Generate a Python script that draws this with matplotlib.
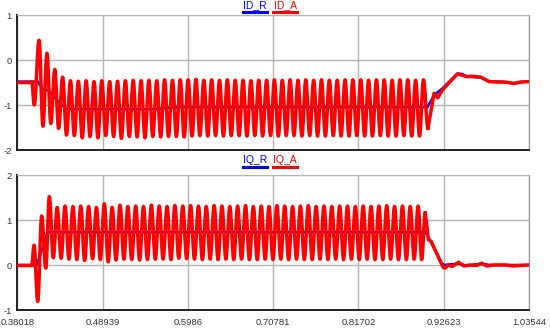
import matplotlib
matplotlib.use("Agg")
import matplotlib.pyplot as plt
from matplotlib.path import Path
from matplotlib.patches import PathPatch

plt.rcParams['font.family'] = ['Liberation Sans', 'DejaVu Sans']
plt.rcParams['axes.unicode_minus'] = False

# ---------------- data ----------------
x_ticks = [0.38018, 0.48939, 0.5986, 0.70781, 0.81702, 0.92623, 1.03544]
x_tick_labels = ["0.38018", "0.48939", "0.5986", "0.70781", "0.81702", "0.92623", "1.03544"]
top_y_ticks = [-2, -1, 0, 1]
bot_y_ticks = [-1, 0, 1, 2]

# --- top panel: ID_R (blue) ---
ID_R_t = [0.38018, 0.4017, 0.4050, 0.4133, 0.4197, 0.4283, 0.4369, 0.4433, 0.5566, 0.5730,
          0.5990, 0.6200, 0.9053, 0.9138, 0.9246, 0.9438, 0.9500, 0.9560, 0.9740, 0.9844,
          1.0000, 1.0144, 1.0220, 1.03544]
ID_R_v = [-0.48, -0.48, -0.45, -0.67, -0.67, -0.85, -1.00, -1.09, -1.09, -1.06,
          -1.04, -1.05, -1.05, -0.78, -0.63, -0.30, -0.31, -0.37, -0.39, -0.48,
          -0.48, -0.52, -0.49, -0.48]

# --- top panel: ID_A (red) ---
ID_A_pre_t = [0.38018, 0.3984, 0.4017]
ID_A_pre_v = [-0.48, -0.48, -1.00]
ID_A_peak_t = [0.4078, 0.4179, 0.4279, 0.4380, 0.4480, 0.4581, 0.4681, 0.4782, 0.4882, 0.4983,
               0.5083, 0.5184, 0.5284, 0.5385, 0.5485, 0.5586, 0.5686, 0.5787, 0.5887, 0.5988,
               0.6088, 0.6189, 0.6289, 0.6390, 0.6490, 0.6591, 0.6691, 0.6792, 0.6892, 0.6993,
               0.7093, 0.7194, 0.7294, 0.7395, 0.7495, 0.7596, 0.7696, 0.7797, 0.7897, 0.7998,
               0.8098, 0.8199, 0.8299, 0.8400, 0.8500, 0.8601, 0.8701, 0.8802, 0.8902, 0.9003]
ID_A_peak_v = [0.44, 0.15, -0.21, -0.38, -0.46, -0.47, -0.46, -0.48, -0.46, -0.48,
               -0.47, -0.46, -0.45, -0.46, -0.45, -0.46, -0.44, -0.45, -0.44, -0.44,
               -0.43, -0.45, -0.44, -0.45, -0.44, -0.45, -0.45, -0.46, -0.45, -0.45,
               -0.44, -0.45, -0.44, -0.45, -0.44, -0.45, -0.44, -0.45, -0.45, -0.44,
               -0.44, -0.44, -0.45, -0.44, -0.44, -0.45, -0.44, -0.44, -0.45, -0.44]
ID_A_trough_t = [0.4128, 0.4229, 0.4329, 0.4430, 0.4530, 0.4631, 0.4731, 0.4832, 0.4932, 0.5033,
                 0.5133, 0.5234, 0.5334, 0.5435, 0.5535, 0.5636, 0.5736, 0.5837, 0.5937, 0.6038,
                 0.6138, 0.6239, 0.6339, 0.6440, 0.6540, 0.6641, 0.6741, 0.6842, 0.6942, 0.7043,
                 0.7143, 0.7244, 0.7344, 0.7445, 0.7545, 0.7646, 0.7746, 0.7847, 0.7947, 0.8048,
                 0.8148, 0.8249, 0.8349, 0.8450, 0.8550, 0.8651, 0.8751, 0.8852, 0.8952, 0.9060]
ID_A_trough_v = [-1.47, -1.41, -1.52, -1.67, -1.68, -1.73, -1.70, -1.73, -1.68, -1.70,
                 -1.74, -1.70, -1.71, -1.73, -1.70, -1.71, -1.70, -1.70, -1.71, -1.69,
                 -1.68, -1.69, -1.68, -1.69, -1.68, -1.68, -1.69, -1.68, -1.69, -1.68,
                 -1.69, -1.68, -1.68, -1.69, -1.68, -1.69, -1.69, -1.68, -1.69, -1.69,
                 -1.68, -1.69, -1.69, -1.68, -1.69, -1.69, -1.68, -1.69, -1.69, -1.52]
ID_A_post_t = [0.9060, 0.9138, 0.9186, 0.9246, 0.9350, 0.9438, 0.9500, 0.9560, 0.9620, 0.9737,
               0.9844, 0.9950, 1.0050, 1.0165, 1.0250, 1.03544]
ID_A_post_v = [-1.52, -0.74, -0.84, -0.66, -0.47, -0.31, -0.34, -0.37, -0.36, -0.38,
               -0.48, -0.49, -0.49, -0.52, -0.49, -0.48]

# --- bottom panel: IQ_R (blue) ---
IQ_R_t = [0.38018, 0.4048, 0.4112, 0.4140, 0.4184, 0.9030, 0.9096, 0.9237, 0.9270, 0.9320,
          0.9450, 0.9550, 0.9750, 0.9850, 1.03544]
IQ_R_v = [0.0, 0.0, 0.33, 0.42, 0.73, 0.73, 0.52, 0.04, 0.0, 0.01,
          0.03, -0.01, 0.03, 0.0, 0.0]

# --- bottom panel: IQ_A (red) ---
IQ_A_pre_t = [0.38018, 0.3984, 0.4014, 0.4061, 0.4112, 0.4164]
IQ_A_pre_v = [0.0, 0.0, 0.44, -0.81, 1.09, -0.07]
IQ_A_peak_t = [0.4210, 0.4311, 0.4411, 0.4512, 0.4612, 0.4713, 0.4813, 0.4914, 0.5014, 0.5115,
               0.5215, 0.5316, 0.5416, 0.5517, 0.5617, 0.5718, 0.5818, 0.5919, 0.6019, 0.6120,
               0.6220, 0.6321, 0.6421, 0.6522, 0.6622, 0.6723, 0.6823, 0.6924, 0.7024, 0.7125,
               0.7225, 0.7326, 0.7426, 0.7527, 0.7627, 0.7728, 0.7828, 0.7929, 0.8029, 0.8130,
               0.8230, 0.8331, 0.8431, 0.8532, 0.8632, 0.8733, 0.8833, 0.8934, 0.9025]
IQ_A_peak_v = [1.52, 1.28, 1.31, 1.30, 1.31, 1.30, 1.28, 1.36, 1.28, 1.33,
               1.30, 1.31, 1.30, 1.33, 1.31, 1.30, 1.32, 1.31, 1.32, 1.31,
               1.30, 1.32, 1.31, 1.30, 1.31, 1.32, 1.30, 1.31, 1.30, 1.32,
               1.31, 1.30, 1.31, 1.32, 1.30, 1.31, 1.30, 1.31, 1.31, 1.30,
               1.31, 1.30, 1.31, 1.32, 1.30, 1.31, 1.30, 1.31, 1.16]
IQ_A_trough_t = [0.4260, 0.4361, 0.4461, 0.4562, 0.4662, 0.4763, 0.4863, 0.4964, 0.5064, 0.5165,
                 0.5265, 0.5366, 0.5466, 0.5567, 0.5667, 0.5768, 0.5868, 0.5969, 0.6069, 0.6170,
                 0.6270, 0.6371, 0.6471, 0.6572, 0.6672, 0.6773, 0.6873, 0.6974, 0.7074, 0.7175,
                 0.7275, 0.7376, 0.7476, 0.7577, 0.7677, 0.7778, 0.7878, 0.7979, 0.8079, 0.8180,
                 0.8280, 0.8381, 0.8481, 0.8582, 0.8682, 0.8783, 0.8883, 0.8980]
IQ_A_trough_v = [0.16, 0.15, 0.13, 0.12, 0.10, 0.14, 0.12, 0.07, 0.11, 0.13,
                 0.12, 0.11, 0.12, 0.13, 0.13, 0.12, 0.15, 0.14, 0.13, 0.12,
                 0.13, 0.12, 0.13, 0.12, 0.13, 0.12, 0.12, 0.13, 0.12, 0.13,
                 0.12, 0.13, 0.12, 0.12, 0.13, 0.12, 0.13, 0.12, 0.13, 0.12,
                 0.13, 0.12, 0.12, 0.13, 0.12, 0.12, 0.13, 0.12]
IQ_A_post_t = [0.9025, 0.9066, 0.9100, 0.9160, 0.9254, 0.9280, 0.9320, 0.9370, 0.9451, 0.9520,
               0.9600, 0.9680, 0.9750, 0.9810, 0.9900, 1.0050, 1.0150, 1.03544]
IQ_A_post_v = [1.16, 0.56, 0.53, 0.30, -0.05, -0.07, 0.0, -0.03, 0.06, -0.02,
               0.0, -0.01, 0.04, -0.02, 0.0, 0.0, -0.02, 0.0]

RED = "#ff0000"
BLUE = "#0000ff"
RED_LW = 2.5
BLUE_LW = 1.8


def interleave(pk_t, pk_v, tr_t, tr_v):
    ts, vs = [], []
    for i in range(len(pk_t)):
        ts.append(pk_t[i]); vs.append(pk_v[i])
        if i < len(tr_t):
            ts.append(tr_t[i]); vs.append(tr_v[i])
    return ts, vs


def smooth_patch(ax, ts, vs, color, lw):
    # smooth curve through the extrema (horizontal tangents at each extremum)
    a = 0.364
    verts = [(ts[0], vs[0])]
    codes = [Path.MOVETO]
    for i in range(len(ts) - 1):
        t0, v0, t1, v1 = ts[i], vs[i], ts[i + 1], vs[i + 1]
        dt = t1 - t0
        verts += [(t0 + a * dt, v0), (t1 - a * dt, v1), (t1, v1)]
        codes += [Path.CURVE4] * 3
    patch = PathPatch(Path(verts, codes), fill=False, edgecolor=color, lw=lw,
                      joinstyle='round', capstyle='round', zorder=4)
    ax.add_patch(patch)


def style_axes(ax, yticks, show_x):
    ax.set_xlim(x_ticks[0], x_ticks[-1])
    ax.set_ylim(yticks[0], yticks[-1])
    ax.set_xticks(x_ticks)
    ax.set_yticks(yticks)
    ax.set_yticklabels([str(v) for v in yticks])
    if show_x:
        ax.set_xticklabels(x_tick_labels)
    else:
        ax.set_xticklabels([])
    ax.grid(True, color="#b4b4b4", lw=1.0)
    ax.set_axisbelow(True)
    ax.tick_params(length=0, labelsize=6.8, labelcolor="#333333", pad=4)
    ax.tick_params(axis='x', pad=6)
    ax.spines['left'].set_color("#222222")
    ax.spines['left'].set_linewidth(1.4)
    ax.spines['bottom'].set_color("#222222")
    ax.spines['bottom'].set_linewidth(1.4)
    ax.spines['top'].set_color("#b4b4b4")
    ax.spines['right'].set_color("#909090")


def legend(fig, y, names):
    xs = [0.4636, 0.5182]
    cols = [BLUE, RED]
    for x, n, c in zip(xs, names, cols):
        fig.text(x, y, n, color=c, fontsize=7.5, ha='center', va='bottom')
        fig.add_artist(plt.Line2D([x - 0.0218, x + 0.0218], [y - 0.006, y - 0.006],
                                  color=c, lw=2.2, transform=fig.transFigure))


fig = plt.figure(figsize=(5.5, 3.33), dpi=100)
ax1 = fig.add_axes([0.0318, 0.5495, 0.930, 0.4054])
ax2 = fig.add_axes([0.0318, 0.0690, 0.930, 0.4054])

# top panel
ax1.plot(ID_R_t, ID_R_v, color=BLUE, lw=BLUE_LW, zorder=3)
ax1.plot(ID_A_pre_t[:2], ID_A_pre_v[:2], color=RED, lw=RED_LW, zorder=4)
ts, vs = interleave(ID_A_peak_t, ID_A_peak_v, ID_A_trough_t, ID_A_trough_v)
smooth_patch(ax1, ID_A_pre_t[1:] + ts, ID_A_pre_v[1:] + vs, RED, RED_LW)
ax1.plot(ID_A_post_t, ID_A_post_v, color=RED, lw=RED_LW, zorder=4, solid_joinstyle='round')
style_axes(ax1, top_y_ticks, False)

# bottom panel
ax2.plot(IQ_R_t, IQ_R_v, color=BLUE, lw=BLUE_LW, zorder=3)
ax2.plot(IQ_A_pre_t[:2], IQ_A_pre_v[:2], color=RED, lw=RED_LW, zorder=4)
ts, vs = interleave(IQ_A_peak_t, IQ_A_peak_v, IQ_A_trough_t, IQ_A_trough_v)
smooth_patch(ax2, IQ_A_pre_t[1:] + ts, IQ_A_pre_v[1:] + vs, RED, RED_LW)
ax2.plot(IQ_A_post_t, IQ_A_post_v, color=RED, lw=RED_LW, zorder=4, solid_joinstyle='round')
style_axes(ax2, bot_y_ticks, True)

legend(fig, 0.969, ["ID_R", "ID_A"])
legend(fig, 0.5045, ["IQ_R", "IQ_A"])

fig.savefig("out.png", dpi=100)
